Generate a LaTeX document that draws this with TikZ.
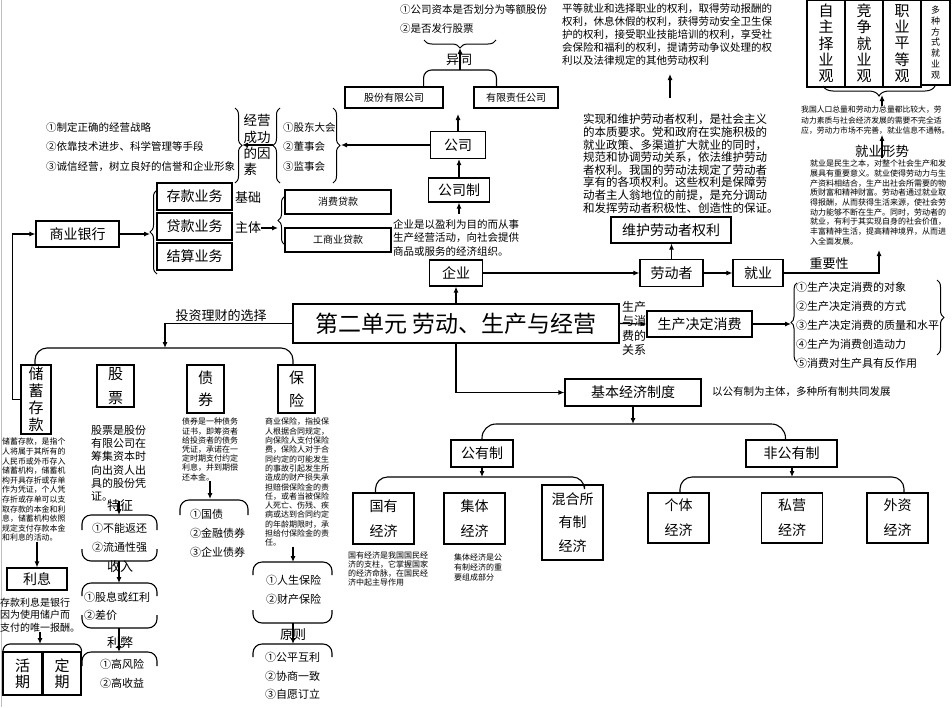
\documentclass[tikz,border=0pt]{standalone}
\usepackage{fontspec}
\setmainfont{Noto Sans CJK SC}
\usetikzlibrary{arrows.meta,positioning,decorations.pathreplacing,calc}
\newcommand{\fsz}[2]{\fontsize{#1}{#2}\selectfont}

\begin{document}
\begin{tikzpicture}[x=1pt,y=-1pt,
  box/.style={draw,line width=1.1pt,inner sep=0pt,align=center},
  arr/.style={line width=1.1pt,-{Latex[length=6pt,width=5pt]}},
  ln/.style={line width=1.1pt},
  txt/.style={inner sep=0pt,align=left,anchor=north west},
  brc/.style={decorate,decoration={brace,amplitude=7pt},line width=1pt}]
  \useasboundingbox (0,0) rectangle (952,707);
  \draw[gray!50,line width=1pt] (1.5,0) -- (1.5,707);

  % centre and enterprise
  \node[box,minimum width=326pt,minimum height=39pt,font=\fsz{23}{26}] (unit) at (456,323.5) {第二单元 劳动、生产与经营};
  \node[box,minimum width=53pt,minimum height=26pt,font=\fsz{14}{16}] (ent) at (456,273) {企业};
  \node[txt,font=\fsz{10.5}{13.5}] (entdef) at (393,219) {企业是以盈利为目的而从事\\生产经营活动，向社会提供\\商品或服务的经济组织。};
  \node[box,minimum width=61pt,minimum height=24pt,font=\fsz{14}{16}] (sys) at (459,190) {公司制};
  \node[box,minimum width=55pt,minimum height=27pt,font=\fsz{14}{16}] (corp) at (458,145) {公司};
  \node[box,minimum width=98pt,minimum height=21pt,font=\fsz{10}{12}] (jsc) at (394,97.5) {股份有限公司};
  \node[box,minimum width=84pt,minimum height=21pt,font=\fsz{10}{12}] (llc) at (516,97.5) {有限责任公司};
  \node[font=\fsz{13}{15},inner sep=0pt] (diff) at (459,60) {异同};
  \node[txt,font=\fsz{10.5}{19}] (crit) at (400,4) {①公司资本是否划分为等额股份\\②是否发行股票};
  \coordinate (critbr) at (460,48);
  \coordinate (typebar) at (460,70);
  \coordinate (corpup) at (458,114);
  \draw[brc,decoration={brace,amplitude=8pt}] (496,40) -- (424,40);
  \draw[ln,rounded corners=8pt] ($(jsc.north east)+(-20,0)$) |- (typebar) -| ($(llc.north west)+(23,0)$);
  \draw[arr] (typebar) -- (critbr);
  \draw[arr] (corp.north) -- (corpup);
  \draw[arr] (sys.north) -- (sys.north |- corp.south);
  \draw[arr] ($(entdef.north -| sys.south)+(0,-5)$) -- (sys.south);
  \draw[arr] (unit.north -| ent.south) -- (ent.south);

  % success factors and organs
  \node[txt,font=\fsz{10.5}{19.5}] (fac) at (46,122) {①制定正确的经营战略\\②依靠技术进步、科学管理等手段\\③诚信经营，树立良好的信誉和企业形象};
  \node[font=\fsz{13.5}{16.3},align=left,inner sep=0pt] (succ) at (257,145) {经营\\成功\\的因\\素};
  \node[txt,font=\fsz{10.5}{19.5}] (gov) at (283,122) {①股东大会\\②董事会\\③监事会};
  \draw[brc] (235,108) -- (235,183);
  \draw[brc] (280,183) -- (280,108);
  \draw[brc] (333,108) -- (333,183);
  \coordinate (govr) at (341,145);
  \coordinate (govl) at (273,145);
  \coordinate (facr) at (242,145);
  \draw[arr] (corp.west) -- (govr);
  \draw[arr] (govl) -- (facr);

  % bank
  \node[box,minimum width=83pt,minimum height=26pt,font=\fsz{14}{16}] (bank) at (77.5,234) {商业银行};
  \node[box,minimum width=75pt,minimum height=27pt,font=\fsz{14}{16}] (dep) at (194.5,196.5) {存款业务};
  \node[box,minimum width=75pt,minimum height=27pt,font=\fsz{14}{16}] (loan) at (194.5,226.5) {贷款业务};
  \node[box,minimum width=75pt,minimum height=27pt,font=\fsz{14}{16}] (sett) at (194.5,256.5) {结算业务};
  \node[font=\fsz{13}{15},inner sep=0pt] (base) at (248,197) {基础};
  \node[font=\fsz{13}{15},inner sep=0pt] (main) at (248,228) {主体};
  \node[box,minimum width=106pt,minimum height=24pt,font=\fsz{10}{12}] (cons) at (338,202) {消费贷款};
  \node[box,minimum width=106pt,minimum height=24pt,font=\fsz{10}{12}] (comm) at (338,240) {工商业贷款};
  \draw[brc] (157,274) -- (157,190);
  \draw[brc] (285,245) -- (285,196);
  \coordinate (banktip) at (150,234);
  \coordinate (loantip) at (278,228);
  \draw[arr] (bank.east) -- (banktip);
  \draw[arr] (main.east) -- (loantip);

  % investment choices
  \node[anchor=south,font=\fsz{13}{15},inner sep=1pt] (invtxt) at (221,323) {投资理财的选择};
  \coordinate (invbar) at (165,348);
  \node[box,minimum width=30pt,minimum height=69pt,font=\fsz{15}{17}] (save) at (36,399.5) {储\\蓄\\存\\款};
  \node[box,minimum width=37pt,minimum height=42pt,font=\fsz{15}{24}] (stock) at (115.5,386) {股\\票};
  \node[box,minimum width=37pt,minimum height=48pt,font=\fsz{15}{22}] (bond) at (205.5,389) {债\\券};
  \node[box,minimum width=37pt,minimum height=48pt,font=\fsz{15}{23}] (insur) at (296.5,389) {保\\险};
  \draw[arr] (unit.west) -| (invbar);
  \draw[ln,rounded corners=12pt] ($(save.north)+(-1,0)$) |- (invbar) -| ($(insur.north)+(-3.5,0)$);
  \draw[arr] (save.west) -- ++(-8,0) |- (bank.west);

  % savings
  \node[txt,font=\fsz{7.9}{9.6}] (savedef) at (2,438) {储蓄存款，是指个\\人将属于其所有的\\人民币或外币存入\\储蓄机构，储蓄机\\构开具存折或存单\\作为凭证，个人凭\\存折或存单可以支\\取存款的本金和利\\息，储蓄机构依照\\规定支付存款本金\\和利息的活动。};
  \node[box,minimum width=60pt,minimum height=22pt,font=\fsz{14}{16}] (interest) at (37,579) {利息};
  \node[txt,font=\fsz{10}{12.2}] (intdef) at (0,598) {存款利息是银行\\因为使用储户而\\支付的唯一报酬。};
  \node[box,minimum width=39pt,minimum height=43pt,font=\fsz{15}{16}] (cur) at (22.5,673.5) {活\\期};
  \node[box,minimum width=38pt,minimum height=43pt,font=\fsz{15}{16}] (fix) at (62,673.5) {定\\期};
  \coordinate (intbar) at (40,644);
  \draw[arr] (savedef.south -| interest.north) -- (interest.north);
  \draw[arr] (intdef.south -| intbar) -- (intbar);
  \draw[ln,rounded corners=7pt] ($(cur.north west)+(0.5,0)$) |- (intbar) -| (fix.north east);

  % stocks
  \node[txt,font=\fsz{11}{13.2}] (stockdef) at (91,425) {股票是股份\\有限公司在\\筹集资本时\\向出资人出\\具的股份凭\\证。};
  \node[font=\fsz{13}{15},inner sep=0pt] (feat) at (120,506) {特征};
  \node[txt,font=\fsz{11}{19}] (featl) at (92,523) {①不能返还\\②流通性强};
  \node[font=\fsz{13}{15},inner sep=0pt] (inc) at (120,567) {收入};
  \node[txt,font=\fsz{11}{18}] (incl) at (84,592) {①股息或红利\\②差价};
  \node[font=\fsz{13}{15},inner sep=0pt] (pros) at (120,643) {利弊};
  \node[txt,font=\fsz{11}{19}] (prosl) at (100,659) {①高风险\\②高收益};
  \coordinate (featbr) at (119,515);
  \coordinate (featbot) at (119,561);
  \coordinate (incbr) at (119,583);
  \coordinate (incbot) at (119,628);
  \coordinate (prosbr) at (119,652);
  \draw[ln,rounded corners=9pt] (82,530) -- (82,515) -- (157,515) -- (157,530);
  \draw[ln,rounded corners=9pt] (82,549) -- (82,561) -- (157,561) -- (157,549);
  \draw[ln,rounded corners=9pt] (82,596) -- (82,583) -- (157,583) -- (157,596);
  \draw[ln,rounded corners=9pt] (82,615) -- (82,628) -- (157,628) -- (157,615);
  \draw[ln,rounded corners=9pt] (82,666) -- (82,652) -- (157,652) -- (157,666);
  \draw[arr] (stockdef.south -| featbr) -- (featbr);
  \draw[arr] (featbot) -- (incbr);
  \draw[arr] (incbot) -- (prosbr);

  % bonds
  \node[txt,font=\fsz{8}{9.2}] (bonddef) at (182,418) {债券是一种债务\\证书，即筹资者\\给投资者的债务\\凭证，承诺在一\\定时期支付约定\\利息，并到期偿\\还本金。};
  \node[txt,font=\fsz{11}{19}] (bondl) at (190,509) {①国债\\②金融债券\\③企业债券};
  \coordinate (bondbr) at (210,499);
  \draw[ln,rounded corners=9pt] (180,515) -- (180,500) -- (248,500) -- (248,515);
  \draw[arr] (bonddef.south -| bondbr) -- (bondbr);

  % insurance
  \node[txt,font=\fsz{8}{9.3}] (insurdef) at (265,418) {商业保险，指投保\\人根据合同规定，\\向保险人支付保险\\费，保险人对于合\\同约定的可能发生\\的事故引起发生所\\造成的财产损失承\\担赔偿保险金的责\\任，或者当被保险\\人死亡、伤残、疾\\病或达到合同约定\\的年龄期限时，承\\担给付保险金的责\\任。};
  \node[txt,font=\fsz{11}{19}] (insurl) at (266,575) {①人生保险\\②财产保险};
  \node[font=\fsz{13}{15},inner sep=0pt] (prin) at (293,635) {原则};
  \node[txt,font=\fsz{11}{18.5}] (prinl) at (265,652) {①公平互利\\②协商一致\\③自愿订立};
  \coordinate (insbr) at (293,562);
  \coordinate (insbot) at (293,623);
  \coordinate (prinbr) at (293,644);
  \draw[ln,rounded corners=9pt] (253,575) -- (253,562) -- (332,562) -- (332,575);
  \draw[ln,rounded corners=9pt] (253,610) -- (253,623) -- (332,623) -- (332,610);
  \draw[ln,rounded corners=9pt] (253,657) -- (253,644) -- (332,644) -- (332,657);
  \draw[arr] (insurdef.south -| insbr) -- (insbr);
  \draw[arr] (insbot) -- (prinbr);

  % workers
  \node[txt,font=\fsz{10.5}{13}] (rights) at (562,3) {平等就业和选择职业的权利，取得劳动报酬的\\权利，休息休假的权利，获得劳动安全卫生保\\护的权利，接受职业技能培训的权利，享受社\\会保险和福利的权利，提请劳动争议处理的权\\利以及法律规定的其他劳动权利};
  \node[txt,font=\fsz{11.5}{12.6}] (rightsdef) at (583,114) {实现和维护劳动者权利，是社会主义\\的本质要求。党和政府在实施积极的\\就业政策、多渠道扩大就业的同时，\\规范和协调劳动关系，依法维护劳动\\者权利。我国的劳动法规定了劳动者\\享有的各项权利。这些权利是保障劳\\动者主人翁地位的前提，是充分调动\\和发挥劳动者积极性、创造性的保证。};
  \node[box,minimum width=120pt,minimum height=26pt,font=\fsz{14}{16}] (protect) at (671,230) {维护劳动者权利};
  \node[box,minimum width=63pt,minimum height=27pt,font=\fsz{14}{16}] (worker) at (671.5,273) {劳动者};
  \node[box,minimum width=50pt,minimum height=27pt,font=\fsz{14}{16}] (job) at (758,273) {就业};
  \node[anchor=south,font=\fsz{13}{15},inner sep=1pt] (jobimp) at (829,271) {重要性};
  \coordinate (rightsup) at (670,74);
  \coordinate (jobup) at (879,250);
  \draw[arr] (ent.east) -- (worker.west);
  \draw[arr] (worker.north) -- (worker.north |- protect.south);
  \draw[arr] (worker.east) -- (job.west);
  \draw[arr] (job.east) -| (jobup);
  \draw[arr] ($(rightsdef.north -| rightsup)+(0,-16)$) -- (rightsup);

  % employment
  \node[box,minimum width=38pt,minimum height=87pt,font=\fsz{15}{16.3}] (v1) at (826,43.5) {自\\主\\择\\业\\观};
  \node[box,minimum width=38pt,minimum height=87pt,font=\fsz{15}{16.3}] (v2) at (864,43.5) {竞\\争\\就\\业\\观};
  \node[box,minimum width=38pt,minimum height=87pt,font=\fsz{15}{16.3}] (v3) at (902,43.5) {职\\业\\平\\等\\观};
  \node[box,minimum width=29pt,minimum height=85pt,font=\fsz{9}{10.8}] (v4) at (935.5,42.5) {多\\种\\方\\式\\就\\业\\观};
  \draw[brc,decoration={brace,amplitude=10pt}] (935,86) -- (823,86);
  \node[txt,font=\fsz{7.8}{10.5}] (pop) at (801,106) {我国人口总量和劳动力总量都比较大，劳\\动力素质与社会经济发展的需要不完全适\\应，劳动力市场不完善，就业信息不通畅。};
  \node[font=\fsz{13.5}{16},inner sep=1pt] (jobsit) at (882,151) {就业形势};
  \node[txt,font=\fsz{8}{9.65}] (jobdef) at (810,160) {就业是民生之本，对整个社会生产和发\\展具有重要意义。就业使得劳动力与生\\产资料相结合，生产出社会所需要的物\\质财富和精神财富。劳动者通过就业取\\得报酬，从而获得生活来源，使社会劳\\动力能够不断在生产。同时，劳动者的\\就业，有利于其实现自身的社会价值，\\丰富精神生活，提高精神境界，从而进\\入全面发展。};
  \coordinate (viewbr) at (882,95);
  \draw[arr] (jobsit.south) -- (jobsit.south |- pop.south);
  \draw[arr] (pop.north -| viewbr) -- (viewbr);

  % production and consumption
  \node[box,minimum width=105pt,minimum height=26pt,font=\fsz{14}{16}] (prod) at (699.5,324) {生产决定消费};
  \node[font=\fsz{12}{14.3},align=left,inner sep=0pt] (prodrel) at (634,328.5) {生产\\与消\\费的\\关系};
  \node[txt,font=\fsz{11}{19}] (prodl) at (796,282) {①生产决定消费的对象\\②生产决定消费的方式\\③生产决定消费的质量和水平\\④生产为消费创造动力\\⑤消费对生产具有反作用};
  \draw[brc,decoration={brace,amplitude=6pt}] (797,362) -- (797,283);
  \draw[brc] (937,280) -- (937,355);
  \coordinate (prodtip) at (791,324);
  \draw[arr] (unit.east) -- (prod.west);
  \draw[arr] (prod.east) -- (prodtip);

  % basic economic system
  \node[box,minimum width=136pt,minimum height=27pt,font=\fsz{14}{16}] (econ) at (633,392.5) {基本经济制度};
  \node[anchor=west,font=\fsz{10.5}{12},inner sep=0pt] (econnote) at (712,392) {以公有制为主体，多种所有制共同发展};
  \node[box,minimum width=62pt,minimum height=27pt,font=\fsz{14}{16}] (pub) at (482,453.5) {公有制};
  \node[box,minimum width=91pt,minimum height=27pt,font=\fsz{14}{16}] (nonpub) at (791.5,453.5) {非公有制};
  \node[box,minimum width=61pt,minimum height=51pt,font=\fsz{14}{25}] (state) at (383.5,518.5) {国有\\经济};
  \node[box,minimum width=61pt,minimum height=51pt,font=\fsz{14}{25}] (coll) at (474.5,518.5) {集体\\经济};
  \node[box,minimum width=61pt,minimum height=75pt,font=\fsz{14}{23.5}] (mixed) at (572.5,522.5) {混合所\\有制\\经济};
  \node[box,minimum width=61pt,minimum height=50pt,font=\fsz{14}{25}] (indiv) at (678.5,518) {个体\\经济};
  \node[box,minimum width=61pt,minimum height=50pt,font=\fsz{14}{25}] (priv) at (792,518) {私营\\经济};
  \node[box,minimum width=61pt,minimum height=50pt,font=\fsz{14}{25}] (foreign) at (897.5,518) {外资\\经济};
  \node[txt,font=\fsz{8}{8.7}] (statedef) at (348,552) {国有经济是我国国民经\\济的支柱，它掌握国家\\的经济命脉，在国民经\\济中起主导作用};
  \node[txt,font=\fsz{8}{10}] (colldef) at (454,554) {集体经济是公\\有制经济的重\\要组成部分};
  \coordinate (econbar) at (633,424);
  \coordinate (pubbar) at (482,477);
  \coordinate (npbar) at (792,477);
  \draw[arr] (unit.south) |- (econ.west);
  \draw[arr] (econ.south) -- (econbar);
  \draw[ln,rounded corners=14pt] (pub.north) |- (econbar) -| ($(nonpub.north)+(-6,0)$);
  \draw[arr] (pub.south) -- (pubbar);
  \draw[ln,rounded corners=12pt] ($(state.north)+(-8,0)$) |- (pubbar) -| ($(mixed.north)+(12,0)$);
  \draw[arr] (nonpub.south -| npbar) -- (npbar);
  \draw[ln,rounded corners=12pt] ($(indiv.north)+(1.5,0)$) |- (npbar) -| ($(foreign.north)+(6.5,0)$);
\end{tikzpicture}
\end{document}
